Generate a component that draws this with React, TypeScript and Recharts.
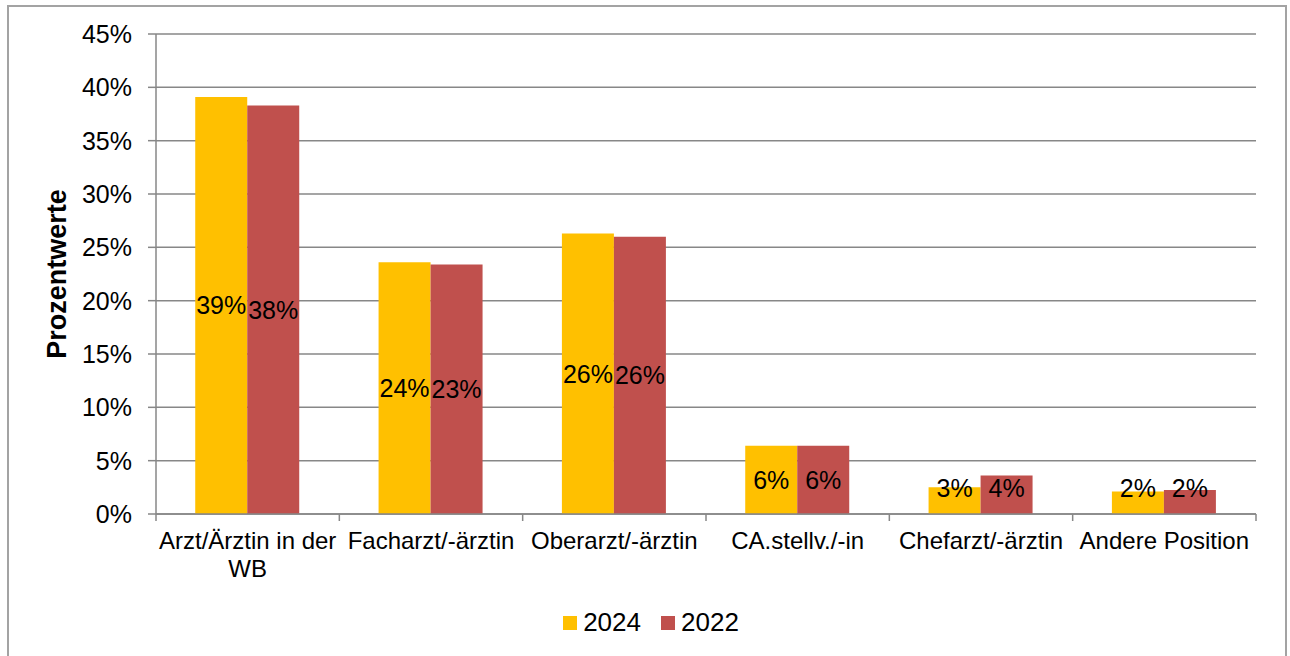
import {
  Bar,
  BarChart,
  CartesianGrid,
  LabelList,
  Legend,
  XAxis,
  YAxis,
} from "recharts";

const categories = [
  "Arzt/Ärztin in der WB",
  "Facharzt/-ärztin",
  "Oberarzt/-ärztin",
  "CA.stellv./-in",
  "Chefarzt/-ärztin",
  "Andere Position",
];
const values2024 = [39.1, 23.6, 26.3, 6.4, 2.5, 2.1];
const values2022 = [38.3, 23.4, 26.0, 6.4, 3.6, 2.25];
const yTicks = [0, 5, 10, 15, 20, 25, 30, 35, 40, 45];

const data = categories.map((name, i) => ({
  name,
  y2024: values2024[i],
  y2022: values2022[i],
}));

const W = 1290;
const H = 656;
const M = { top: 34, right: 34, left: 0, bottom: 0 };
const Y_W = 156;
const X_H = 72;
const PLOT_W = W - M.left - M.right - Y_W;
const BAND = PLOT_W / categories.length;
const FONT = '"Liberation Sans", Arial, sans-serif';
const GRAY = "#878787";
const TICK_FONT = 24;

let ctx: CanvasRenderingContext2D | null = null;
function wrap(label: string, maxW: number) {
  if (!ctx) ctx = document.createElement("canvas").getContext("2d");
  if (ctx) ctx.font = `${TICK_FONT}px ${FONT}`;
  const measure = (s: string) => (ctx ? ctx.measureText(s).width : s.length * 12);
  const lines: string[] = [];
  let cur = "";
  for (const w of label.split(" ")) {
    const next = cur ? cur + " " + w : w;
    if (cur && measure(next) > maxW) {
      lines.push(cur);
      cur = w;
    } else cur = next;
  }
  if (cur) lines.push(cur);
  return lines;
}

function XTick(props: any) {
  const { x, y, payload, index } = props;
  const left = x - BAND / 2;
  const right = x + BAND / 2;
  const lines = wrap(payload.value, BAND - 4);
  return (
    <g>
      <line x1={left} y1={y} x2={left} y2={y + 7} stroke={GRAY} strokeWidth={1.5} />
      {index === categories.length - 1 && (
        <line x1={right} y1={y} x2={right} y2={y + 7} stroke={GRAY} strokeWidth={1.5} />
      )}
      <text
        x={x}
        y={y + 35}
        textAnchor="middle"
        style={{ fontFamily: FONT, fontSize: TICK_FONT, fill: "#000" }}
      >
        {lines.map((l, i) => (
          <tspan key={i} x={x} dy={i ? 28 : 0}>
            {l}
          </tspan>
        ))}
      </text>
    </g>
  );
}

function BarLabel(props: any) {
  const { x, y, width, height, value } = props;
  const bottom = y + height;
  const cy = Math.min(y + height / 2, bottom - 26);
  return (
    <text
      x={x + width / 2}
      y={cy}
      dy="0.36em"
      textAnchor="middle"
      style={{ fontFamily: FONT, fontSize: 25, fill: "#000" }}
    >
      {Math.round(value)}%
    </text>
  );
}

function LegendBox() {
  const items = [
    { label: "2024", color: "#FFC000" },
    { label: "2022", color: "#C0504D" },
  ];
  return (
    <div
      style={{
        height: 70,
        boxSizing: "border-box",
        paddingTop: 21,
        display: "flex",
        justifyContent: "center",
        fontFamily: FONT,
        fontSize: 26,
        lineHeight: "30px",
      }}
    >
      {items.map((it, i) => (
        <div
          key={it.label}
          style={{ display: "flex", alignItems: "center", marginLeft: i ? 20 : 0, height: 30 }}
        >
          <span
            style={{
              display: "inline-block",
              width: 14,
              height: 14,
              background: it.color,
              marginRight: 6,
              marginTop: 2,
            }}
          />
          <span style={{ color: "#000" }}>{it.label}</span>
        </div>
      ))}
    </div>
  );
}

function App() {
  return (
    <div style={{ position: "absolute", left: 0, top: 0, width: W, height: H, overflow: "hidden", background: "#fff" }}>
      <div
        style={{
          position: "absolute",
          left: 7,
          top: 5,
          width: 1276,
          height: 700,
          border: "2px solid #a3a3a3",
        }}
      />
      <BarChart
        width={W}
        height={H}
        data={data}
        margin={M}
        barGap={0}
        barCategoryGap="21.4%"
        style={{ position: "absolute", left: 0, top: 0 }}
      >
        <CartesianGrid vertical={false} stroke={GRAY} strokeWidth={1.5} />
        <XAxis
          dataKey="name"
          height={X_H}
          interval={0}
          tickLine={false}
          tickSize={0}
          tickMargin={0}
          axisLine={{ stroke: GRAY, strokeWidth: 1.5 }}
          tick={<XTick />}
        />
        <YAxis
          width={Y_W}
          domain={[0, 45]}
          ticks={yTicks}
          interval={0}
          tickFormatter={(v: number) => `${v}%`}
          tickSize={8}
          tickMargin={16}
          axisLine={{ stroke: GRAY, strokeWidth: 1.5 }}
          tickLine={{ stroke: GRAY, strokeWidth: 1.5 }}
          tick={{ fill: "#000", fontSize: 25, fontFamily: FONT }}
          label={{
            value: "Prozentwerte",
            angle: -90,
            position: "insideLeft",
            offset: 56,
            style: {
              textAnchor: "middle",
              fontFamily: FONT,
              fontWeight: "bold",
              fontSize: 27,
              fill: "#000",
            },
          }}
        />
        <Legend
          verticalAlign="bottom"
          content={<LegendBox />}
          wrapperStyle={{ left: 12, width: W - 12 }}
        />
        <Bar dataKey="y2024" name="2024" fill="#FFC000" isAnimationActive={false}>
          <LabelList dataKey="y2024" content={<BarLabel />} />
        </Bar>
        <Bar dataKey="y2022" name="2022" fill="#C0504D" isAnimationActive={false}>
          <LabelList dataKey="y2022" content={<BarLabel />} />
        </Bar>
      </BarChart>
    </div>
  );
}

export default App;
